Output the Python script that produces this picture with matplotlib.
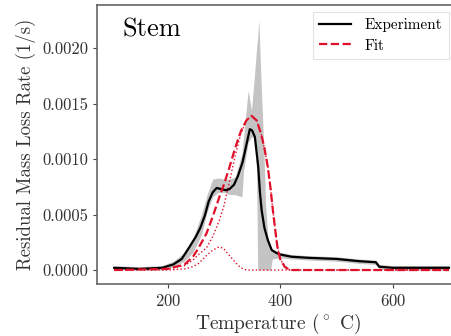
import matplotlib
matplotlib.use("Agg")
import matplotlib.pyplot as plt

plt.rcParams['font.family'] = 'serif'
plt.rcParams['font.serif'] = ['cmr10', 'DejaVu Serif']
plt.rcParams['mathtext.fontset'] = 'cm'
plt.rcParams['axes.formatter.use_mathtext'] = True

# experiment (mean) line
temp_exp = [105, 150, 190, 210, 225, 239, 250, 258, 266, 273, 280, 287, 295, 303, 310, 318,
            325, 333, 340, 346, 350, 355, 361, 364, 367, 372, 378, 385, 393, 400, 420, 450,
            500, 540, 570, 576, 600, 650, 700]
exp_mean = [0.00002, 0.00001, 0.00002, 0.00005, 0.0001, 0.00021, 0.0003, 0.00038, 0.00049,
            0.00062, 0.0007, 0.00074, 0.00073, 0.00072, 0.00073, 0.00077, 0.00085, 0.00097,
            0.00113, 0.00127, 0.00126, 0.0012, 0.00093, 0.0007, 0.00054, 0.00038, 0.00027,
            0.00018, 0.000155, 0.00014, 0.00012, 0.00011, 0.0001, 0.00008, 0.00007, 0.00003,
            0.00002, 0.00002, 0.00002]

# spread of the experiments (grey band)
temp_band = [105, 150, 190, 210, 230, 245, 260, 270, 280, 290, 300, 310, 320, 332, 335, 343,
             349, 355, 358, 360, 362, 366, 371, 374, 378, 383, 386, 400, 420, 450, 500, 540,
             570, 576, 600, 650, 700]
band_low = [0.0, 0.0, 0.0, 0.00003, 0.00008, 0.00016, 0.00032, 0.00052, 0.00066, 0.0007,
            0.0007, 0.00068, 0.00068, 0.00066, 0.0009, 0.00115, 0.0012, 0.0012, 0.0009, 0.0,
            0.0, 0.0, 0.0, 0.0, 0.0, 0.0, 0.0001, 0.00011, 0.0001, 0.00009, 0.00008, 0.00006,
            0.00005, 0.00001, 0.0, 0.0, 0.0]
band_high = [0.00004, 0.00003, 0.00004, 0.00008, 0.00016, 0.00028, 0.0005, 0.00068, 0.00082,
             0.00083, 0.00082, 0.00082, 0.00084, 0.00105, 0.0012, 0.00162, 0.00144, 0.0018,
             0.002, 0.0021, 0.00226, 0.0017, 0.00108, 0.0006, 0.0003, 0.0002, 0.00018,
             0.00016, 0.00014, 0.00013, 0.00012, 0.0001, 0.00009, 0.00005, 0.00004, 0.00004,
             0.00004]

# fit and its two components
temp_fit = [105, 200, 230, 245, 255, 269, 280, 292, 300, 310, 320, 330, 340, 349, 358, 366,
            372, 378, 383, 387, 391, 395, 400, 408, 417, 500, 700]
fit_total = [0.0, 0.00001, 0.00005, 0.00012, 0.0002, 0.00033, 0.00048, 0.00066, 0.00077,
             0.00093, 0.0011, 0.00125, 0.00135, 0.00139, 0.00135, 0.00123, 0.0011, 0.00093,
             0.00073, 0.00054, 0.00037, 0.00021, 0.0001, 0.00003, 0.0, 0.0, 0.0]
fit_small = [0.0, 0.0, 0.00001, 0.00003, 0.00006, 0.00013, 0.00018, 0.00021, 0.00019,
             0.00013, 0.00007, 0.00002, 0.0, 0.0, 0.0, 0.0, 0.0, 0.0, 0.0, 0.0, 0.0, 0.0,
             0.0, 0.0, 0.0, 0.0, 0.0]
fit_big = [0.0, 0.00001, 0.00004, 0.00009, 0.00014, 0.0002, 0.0003, 0.00045, 0.00058,
           0.0008, 0.00103, 0.00123, 0.00135, 0.00139, 0.00135, 0.00123, 0.0011, 0.00093,
           0.00073, 0.00054, 0.00037, 0.00021, 0.0001, 0.00003, 0.0, 0.0, 0.0]

fig = plt.figure(figsize=(4.52, 3.36), dpi=100)
ax = fig.add_axes([97 / 452, 52 / 336, 363 / 452, 279 / 336])

ax.fill_between(temp_band, band_low, band_high, color='#c4c4c4', lw=0)
ax.plot(temp_fit, fit_small, ':', color='#e0102a', lw=1.0)
ax.plot(temp_fit, fit_big, ':', color='#e0102a', lw=1.0)
ax.plot(temp_exp, exp_mean, '-', color='black', lw=1.6, label='Experiment')
ax.plot(temp_fit, fit_total, '--', color='#e0102a', lw=1.6, label='Fit')

ax.set_xlim(74.4, 719.6)
ax.set_ylim(-0.000126, 0.00239)
ax.set_xticks([200, 400, 600])
ax.set_yticks([0.0, 0.0005, 0.001, 0.0015, 0.002])
ax.set_yticklabels(['0.0000', '0.0005', '0.0010', '0.0015', '0.0020'])

for s in ax.spines.values():
    s.set_color('#666666')
    s.set_linewidth(1.2)
ax.tick_params(colors='#444444', labelsize=12, length=3, labelcolor='#333333')

ax.set_xlabel(r'Temperature ($^\circ$ C)', fontsize=14, color='#333333', labelpad=2)
ax.set_ylabel('Residual Mass Loss Rate (1/s)', fontsize=13.5, color='#333333', labelpad=4)
ax.text(0.07, 0.91, 'Stem', transform=ax.transAxes, fontsize=19, va='center')

leg = ax.legend(loc='upper left', bbox_to_anchor=(313 / 452, 1 - 12 / 336),
                bbox_transform=fig.transFigure, borderaxespad=0, fontsize=11,
                frameon=True, fancybox=False, edgecolor='#dddddd', handlelength=2.1,
                handletextpad=0.9, borderpad=0.4, labelspacing=0.45)
leg.get_frame().set_linewidth(0.8)

fig.savefig('out.png', dpi=100)
